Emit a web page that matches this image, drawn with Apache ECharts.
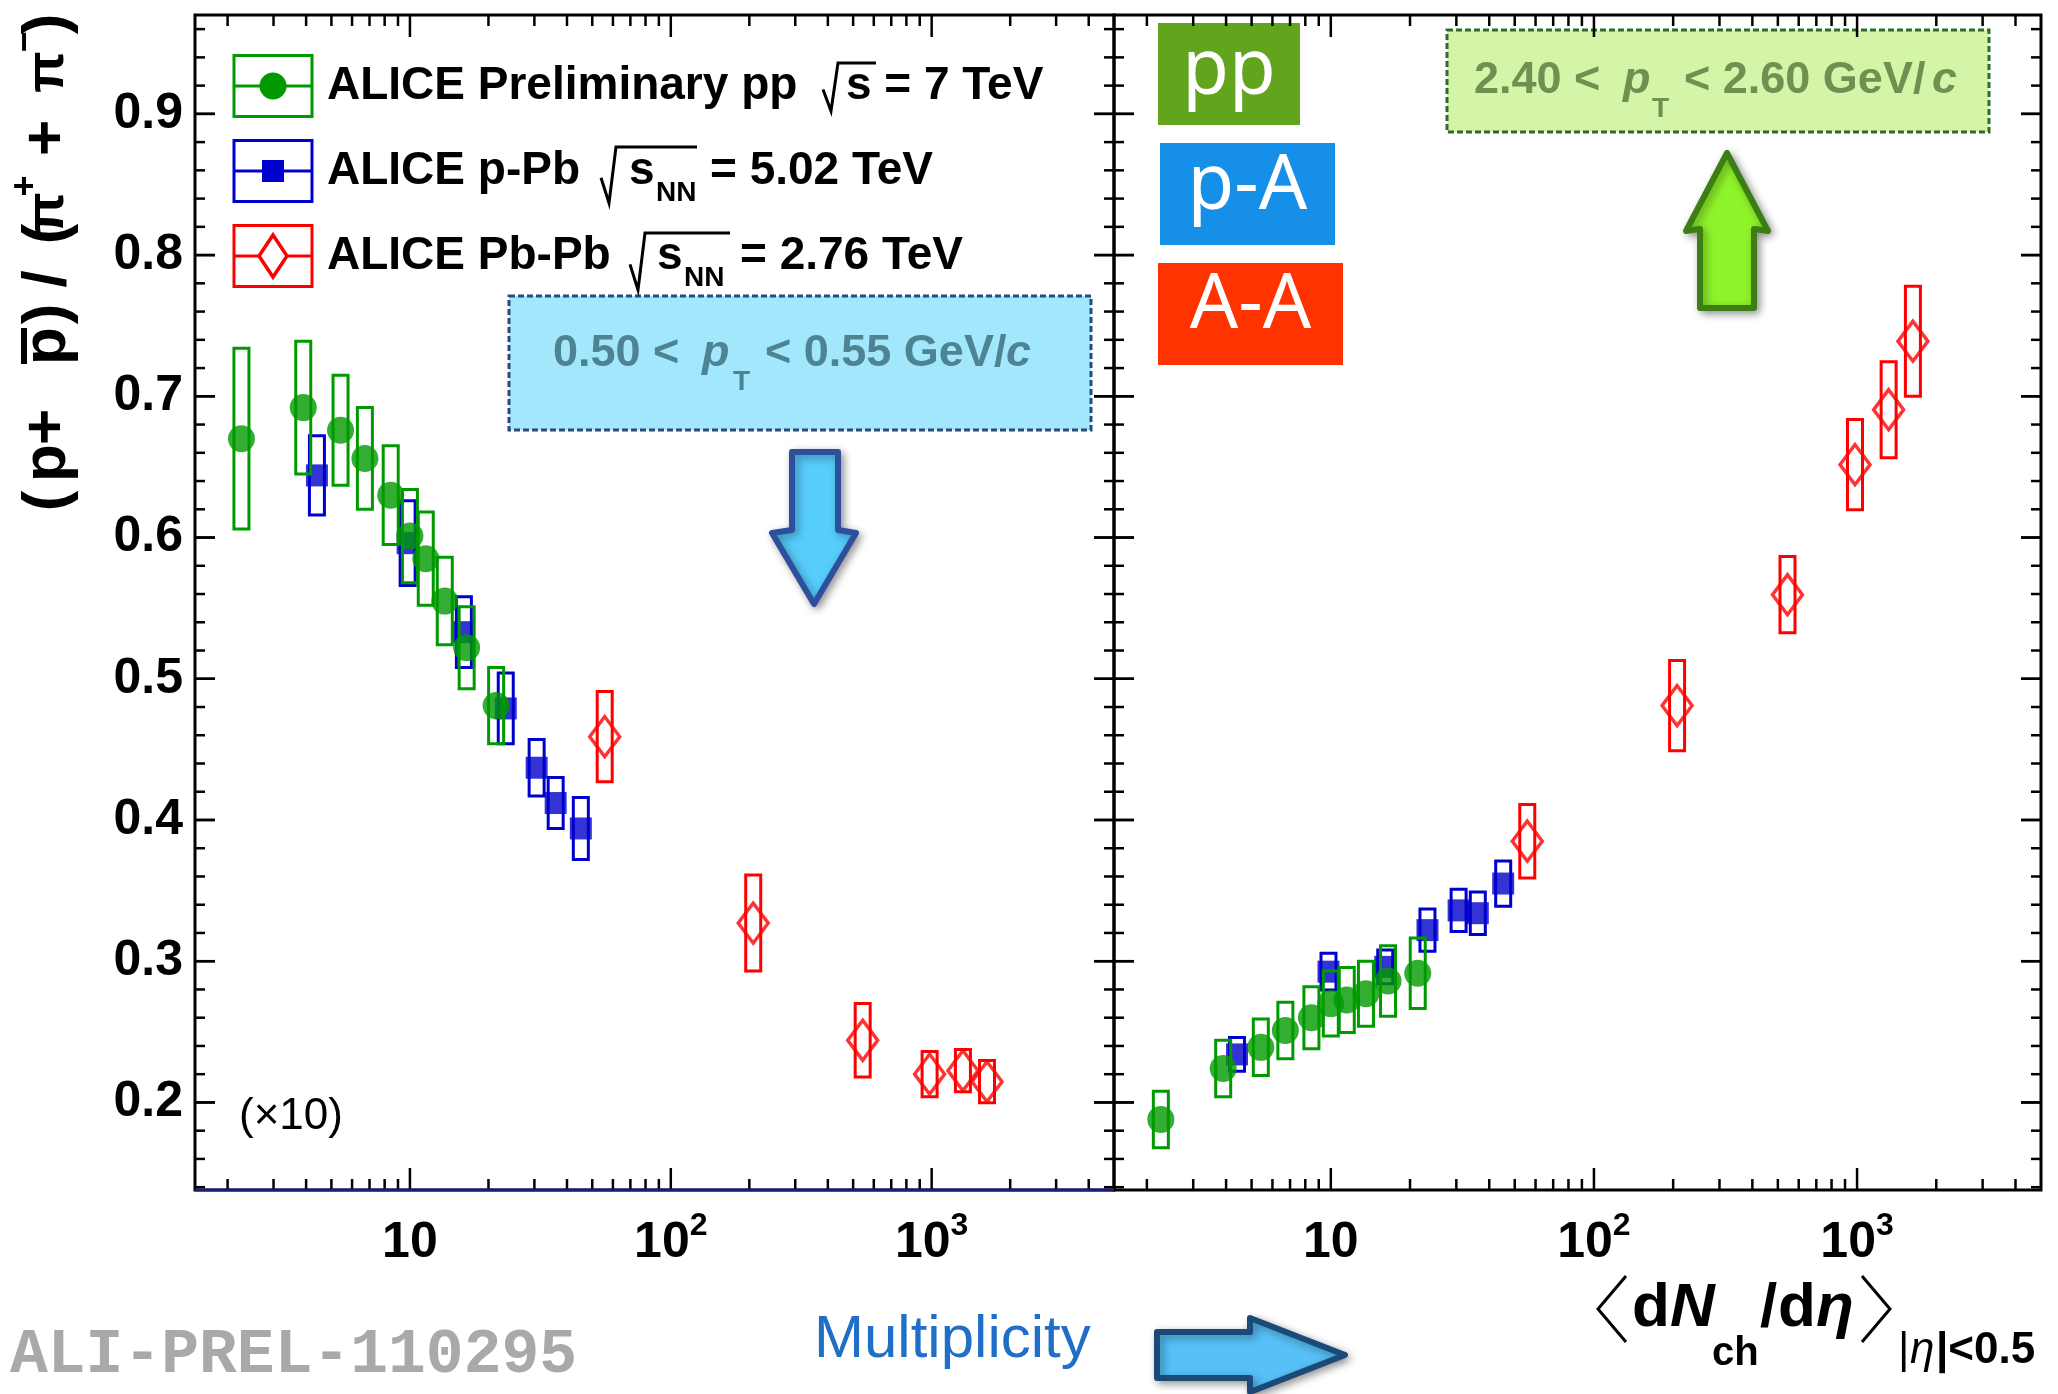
<!DOCTYPE html>
<html>
<head>
<meta charset="utf-8">
<title>ALICE (p+pbar)/(pi+ + pi-) vs multiplicity</title>
<script src="https://cdn.jsdelivr.net/npm/echarts@6/dist/echarts.min.js"></script>
<style>
  html, body { margin: 0; padding: 0; background: #fff; }
  #chart { width: 2058px; height: 1394px; }
</style>
</head>
<body>
<div id="chart"></div>
<script>
/* ------------------------------  data  ------------------------------ */
// <dNch/deta> of each multiplicity class
const ppMult = [2.26, 3.9, 5.42, 6.72, 8.44, 10.0, 11.5, 13.6, 16.5, 21.4];
const pPbMult = [4.4, 9.8, 16.1, 23.3, 30.6, 36.2, 45.2];
const PbPbMult = [55.8, 207, 544, 982, 1318, 1630];

// left panel: 0.50 < pT < 0.55 GeV/c  (value, systematic half-height)
const ppLow = [0.670, 0.692, 0.676, 0.656, 0.630, 0.601, 0.585, 0.555, 0.522, 0.481];
const ppLowSys = [0.064, 0.047, 0.039, 0.036, 0.035, 0.033, 0.033, 0.031, 0.029, 0.027];
const pPbLow = [0.644, 0.596, 0.533, 0.479, 0.437, 0.412, 0.394];
const pPbLowSys = [0.028, 0.030, 0.025, 0.025, 0.020, 0.018, 0.022];
const PbPbLow = [0.459, 0.327, 0.244, 0.220, 0.2225, 0.2147];
const PbPbLowSys = [0.032, 0.034, 0.026, 0.016, 0.015, 0.015];

// right panel: 2.40 < pT < 2.60 GeV/c
const ppHigh = [0.188, 0.224, 0.239, 0.251, 0.260, 0.270, 0.2725, 0.277, 0.286, 0.2915];
const ppHighSys = [0.020, 0.020, 0.020, 0.020, 0.022, 0.023, 0.023, 0.023, 0.025, 0.025];
const pPbHigh = [0.234, 0.2926, 0.296, 0.322, 0.336, 0.334, 0.355];
const pPbHighSys = [0.012, 0.013, 0.012, 0.015, 0.015, 0.015, 0.016];
const PbPbHigh = [0.385, 0.481, 0.5595, 0.6516, 0.6905, 0.739];
const PbPbHighSys = [0.026, 0.032, 0.027, 0.032, 0.034, 0.039];

// axes
const xMin = 1.5, xMax = 5000;
const yMin = 0.138, yMax = 0.97;
const xMajorTicks = [10, 100, 1000];
const xMinorTicks = [2, 3, 4, 5, 6, 7, 8, 9, 20, 30, 40, 50, 60, 70, 80, 90,
  200, 300, 400, 500, 600, 700, 800, 900, 2000, 3000, 4000];
const yMajorTicks = [0.2, 0.3, 0.4, 0.5, 0.6, 0.7, 0.8, 0.9];

/* ------------------------------  style  ------------------------------ */
const FONT = '"Liberation Sans", Arial, Helvetica, sans-serif';
const GREEN = '#009a00';
const BLUE = '#0000cc';
const RED = '#ff0000';
const TICK_W = 2.5;

const yMinorTicks = [];
for (let k = 7; k <= 48; k++) yMinorTicks.push(+(k * 0.02).toFixed(2));

/* ------------------------------  helpers  ------------------------------ */
function seg(x1, y1, x2, y2, color = '#000', w = TICK_W) {
  return { type: 'line', shape: { x1, y1, x2, y2 }, style: { stroke: color, lineWidth: w } };
}

// text placed by its alphabetic baseline
function txt(text, x, base, size, o = {}) {
  const font = `${o.italic ? 'italic ' : ''}${o.weight || 'bold'} ${size}px ${o.family || FONT}`;
  return {
    type: 'text', x, y: base - 0.35 * size, z: o.z ?? 20, silent: true,
    style: {
      text, font, fill: o.color || '#000',
      align: o.align || 'left', textAlign: o.align || 'left',
      verticalAlign: 'middle', textVerticalAlign: 'middle'
    }
  };
}

function radical(x, top, bottom, end, color = '#000') {
  const h = bottom - top;
  return {
    type: 'polyline', z: 20, silent: true,
    shape: { points: [[x - 3, top + 0.55 * h], [x + 5, bottom], [x + 12, top], [end, top]] },
    style: { stroke: color, lineWidth: 3, fill: 'none', lineJoin: 'miter' }
  };
}

function arrow(points, fill, stroke) {
  return {
    type: 'polygon', z: 15, silent: true, shape: { points },
    style: {
      fill, stroke, lineWidth: 6, lineJoin: 'round',
      shadowBlur: 8, shadowColor: 'rgba(0,0,0,0.35)', shadowOffsetX: 3, shadowOffsetY: 3
    }
  };
}

function tickSeries(gi) {
  return [
    {
      type: 'custom', xAxisIndex: gi, yAxisIndex: gi, z: 9, silent: true,
      data: xMajorTicks.concat(xMinorTicks).map(v => [v, yMin]),
      renderItem(params, api) {
        const v = api.value(0);
        const len = xMajorTicks.includes(v) ? 22 : 11;
        const p = api.coord([v, yMin]);
        const cs = params.coordSys;
        return {
          type: 'group', children: [
            seg(p[0], cs.y + cs.height, p[0], cs.y + cs.height - len),
            seg(p[0], cs.y, p[0], cs.y + len)
          ]
        };
      }
    },
    {
      type: 'custom', xAxisIndex: gi, yAxisIndex: gi, z: 9, silent: true,
      data: yMajorTicks.concat(yMinorTicks).map(v => [xMin, v]),
      renderItem(params, api) {
        const v = api.value(1);
        const len = Math.abs(v * 10 - Math.round(v * 10)) < 1e-6 ? 20 : 10;
        const p = api.coord([xMin, v]);
        const cs = params.coordSys;
        return {
          type: 'group', children: [
            seg(cs.x, p[1], cs.x + len, p[1]),
            seg(cs.x + cs.width, p[1], cs.x + cs.width - len, p[1])
          ]
        };
      }
    }
  ];
}

function boxSeries(gi, xs, ys, errs, color, z) {
  return {
    type: 'custom', xAxisIndex: gi, yAxisIndex: gi, z, silent: true,
    data: xs.map((x, i) => [x, ys[i] - errs[i], ys[i] + errs[i]]),
    renderItem(params, api) {
      const hi = api.coord([api.value(0), api.value(2)]);
      const lo = api.coord([api.value(0), api.value(1)]);
      return {
        type: 'rect',
        shape: { x: hi[0] - 7.5, y: hi[1], width: 15, height: lo[1] - hi[1] },
        style: { fill: 'none', stroke: color, lineWidth: 3 }
      };
    }
  };
}

function markerSeries(gi, xs, ys, kind, z) {
  const base = {
    type: 'scatter', xAxisIndex: gi, yAxisIndex: gi, z, silent: true,
    data: xs.map((x, i) => [x, ys[i]])
  };
  if (kind === 'pp') return Object.assign(base, { symbol: 'circle', symbolSize: 27, itemStyle: { color: GREEN } });
  if (kind === 'pPb') return Object.assign(base, { symbol: 'rect', symbolSize: 22, itemStyle: { color: BLUE } });
  return Object.assign(base, {
    symbol: 'diamond', symbolSize: [30, 40],
    itemStyle: { color: 'rgba(0,0,0,0)', borderColor: RED, borderWidth: 3.5 }
  });
}

/* ------------------------------  overlay graphics  ------------------------------ */
const overlay = [];

// y-axis title, rotated glyph by glyph: (p + p̄) / (π⁺ + π⁻)
const yTitleGlyphs = [['(', 501, 62], ['p', 463, 62], ['+', 427, 62], ['p', 346, 62], [')', 314, 62], ['/', 279, 62],
  ['(', 234, 62], ['π', 213, 54], ['+', 138, 62], ['π', 72, 54], [')', 24, 62]];
yTitleGlyphs.forEach(([t, y, fs]) => overlay.push({
  type: 'text', x: 48, y, rotation: Math.PI / 2, z: 20, silent: true,
  style: { text: t, font: `bold ${fs}px ${FONT}`, fill: '#000', align: 'center', textAlign: 'center', verticalAlign: 'middle', textVerticalAlign: 'middle' }
}));
[['+', 186, 26], ['−', 42, 26]].forEach(([t, y, x]) => overlay.push({
  type: 'text', x, y, rotation: Math.PI / 2, z: 20, silent: true,
  style: { text: t, font: `bold 36px ${FONT}`, fill: '#000', align: 'center', textAlign: 'center', verticalAlign: 'middle', textVerticalAlign: 'middle' }
}));
overlay.push({ type: 'rect', z: 20, silent: true, shape: { x: 21, y: 328, width: 6, height: 36 }, style: { fill: '#000' } });

// legend
const legendRows = [
  { cy: 86, color: GREEN, kind: 'pp' },
  { cy: 171, color: BLUE, kind: 'pPb' },
  { cy: 256, color: RED, kind: 'PbPb' }
];
legendRows.forEach(r => {
  overlay.push({ type: 'rect', z: 20, silent: true, shape: { x: 234, y: r.cy - 30.5, width: 78, height: 61 }, style: { fill: 'none', stroke: r.color, lineWidth: 3 } });
  overlay.push(Object.assign(seg(234, r.cy, 312, r.cy, r.color, 3), { z: 20, silent: true }));
  if (r.kind === 'pp') overlay.push({ type: 'circle', z: 21, silent: true, shape: { cx: 273, cy: r.cy, r: 13.5 }, style: { fill: GREEN } });
  if (r.kind === 'pPb') overlay.push({ type: 'rect', z: 21, silent: true, shape: { x: 262, y: r.cy - 11, width: 22, height: 22 }, style: { fill: BLUE } });
  if (r.kind === 'PbPb') overlay.push({
    type: 'polygon', z: 21, silent: true,
    shape: { points: [[273, r.cy - 21], [287, r.cy], [273, r.cy + 21], [259, r.cy]] },
    style: { fill: '#fff', stroke: RED, lineWidth: 3.5 }
  });
});
overlay.push(txt('ALICE Preliminary pp', 327, 102, 46));
overlay.push(radical(826, 63, 111, 876));
overlay.push(txt('s = 7 TeV', 846, 102, 46));
overlay.push(txt('ALICE p-Pb', 327, 187, 46));
overlay.push(radical(604, 147, 203, 697));
overlay.push(txt('s', 629, 187, 46));
overlay.push(txt('NN', 656, 203, 28));
overlay.push(txt('= 5.02 TeV', 710, 187, 46));
overlay.push(txt('ALICE Pb-Pb', 327, 272, 46));
overlay.push(radical(633, 233, 290, 730));
overlay.push(txt('s', 657, 272, 46));
overlay.push(txt('NN', 684, 288, 28));
overlay.push(txt('= 2.76 TeV', 740, 272, 46));

// pT window of the left panel
const LOW_TXT = '#4d8393';
overlay.push({ type: 'rect', z: 1, silent: true, shape: { x: 509, y: 296, width: 582, height: 134 }, style: { fill: '#a3e7fd', stroke: '#2a4a7c', lineWidth: 3, lineDash: [6, 3] } });
overlay.push(txt('0.50 <', 553, 369, 45, { color: LOW_TXT, z: 2 }));
overlay.push(txt('p', 702, 369, 45, { color: LOW_TXT, italic: true, z: 2 }));
overlay.push(txt('T', 733, 392, 28, { color: LOW_TXT, z: 2 }));
overlay.push(txt('< 0.55 GeV/', 765, 369, 45, { color: LOW_TXT, z: 2 }));
overlay.push(txt('c', 1006, 369, 45, { color: LOW_TXT, italic: true, z: 2 }));
overlay.push(arrow([[792, 452], [838, 452], [838, 530], [856, 533], [814, 604], [772, 533], [792, 530]], '#56cdfb', '#2d4f9e'));

// pT window of the right panel
const HIGH_TXT = '#6e9050';
overlay.push({ type: 'rect', z: 1, silent: true, shape: { x: 1447, y: 30, width: 542, height: 102 }, style: { fill: '#d4f4a7', stroke: '#2e6b2e', lineWidth: 3, lineDash: [6, 3] } });
overlay.push(txt('2.40 <', 1474, 96, 45, { color: HIGH_TXT, z: 2 }));
overlay.push(txt('p', 1623, 96, 45, { color: HIGH_TXT, italic: true, z: 2 }));
overlay.push(txt('T', 1652, 119, 28, { color: HIGH_TXT, z: 2 }));
overlay.push(txt('< 2.60 GeV/', 1684, 96, 45, { color: HIGH_TXT, z: 2 }));
overlay.push(txt('c', 1932, 96, 45, { color: HIGH_TXT, italic: true, z: 2 }));
overlay.push(arrow([[1727, 153], [1768, 231], [1754, 229], [1754, 308], [1700, 308], [1700, 229], [1686, 231]], '#8ff32a', '#3c7d14'));

// collision-system badges
[
  { x: 1158, y: 23, w: 142, h: 102, fill: '#62a41e', label: 'pp', base: 99 },
  { x: 1160, y: 143, w: 175, h: 102, fill: '#158fe8', label: 'p-A', base: 214 },
  { x: 1158, y: 263, w: 185, h: 102, fill: '#ff3300', label: 'A-A', base: 333 }
].forEach(b => {
  overlay.push({ type: 'rect', z: 1, silent: true, shape: { x: b.x, y: b.y, width: b.w, height: b.h }, style: { fill: b.fill } });
  overlay.push(txt(b.label, b.x + b.w / 2, b.base, 76, { color: '#fff', weight: 'normal', family: '"Noto Sans", sans-serif', align: 'center', z: 2 }));
});

// annotations at the bottom
overlay.push(txt('(×10)', 239, 1132, 44, { weight: 'normal' }));
overlay.push(Object.assign(seg(195, 1190, 1114, 1190, '#1c1c7a', 3), { z: 10, silent: true }));
overlay.push(txt('ALI-PREL-110295', 10, 1378, 63, { family: '"Liberation Mono", "Courier New", monospace', color: '#a9a9a9' }));
overlay.push(txt('Multiplicity', 814, 1361, 60, { weight: 'normal', color: '#1f6fc8' }));
overlay.push(arrow([[1157, 1332], [1250, 1332], [1250, 1318], [1345, 1355], [1250, 1392], [1250, 1378], [1157, 1378]], '#56c0f7', '#1b4a78'));

// x-axis title  <dN_ch/dη>_{|η|<0.5}
overlay.push({ type: 'polyline', z: 20, silent: true, shape: { points: [[1626, 1276], [1598, 1309], [1626, 1342]] }, style: { stroke: '#000', lineWidth: 3, fill: 'none' } });
overlay.push(txt('d', 1632, 1331, 62));
overlay.push(txt('N', 1670, 1331, 62, { italic: true }));
overlay.push(txt('ch', 1712, 1368, 40));
overlay.push(txt('/', 1760, 1331, 62));
overlay.push(txt('d', 1778, 1331, 62));
overlay.push(txt('η', 1816, 1331, 62, { italic: true }));
overlay.push({ type: 'polyline', z: 20, silent: true, shape: { points: [[1862, 1276], [1890, 1309], [1862, 1342]] }, style: { stroke: '#000', lineWidth: 3, fill: 'none' } });
overlay.push(txt('|', 1898, 1366, 44, { weight: 'normal' }));
overlay.push(txt('η', 1910, 1366, 44, { italic: true, weight: 'normal' }));
overlay.push(txt('|<0.5', 1936, 1366, 44));

/* ------------------------------  chart  ------------------------------ */
const chart = echarts.init(document.getElementById('chart'), null, { renderer: 'canvas' });

const grids = [
  { left: 195, top: 15, width: 919, height: 1175 },
  { left: 1114, top: 15, width: 927, height: 1175 }
].map(g => Object.assign(g, {
  show: true, borderColor: '#000', borderWidth: 3, backgroundColor: 'transparent',
  containLabel: false, outerBoundsMode: 'none'
}));

const xAxes = [0, 1].map(i => ({
  type: 'log', logBase: 10, gridIndex: i, min: xMin, max: xMax,
  axisLine: { show: false }, axisTick: { show: false }, splitLine: { show: false },
  axisLabel: {
    customValues: xMajorTicks, margin: 20,
    formatter: v => {
      const e = Math.round(Math.log10(v));
      return e === 1 ? '{b|10}' : `{b|10}{s|${e}}`;
    },
    rich: {
      b: { fontSize: 50, fontWeight: 'bold', fontFamily: FONT, color: '#000', lineHeight: 58, verticalAlign: 'bottom' },
      s: { fontSize: 32, fontWeight: 'bold', fontFamily: FONT, color: '#000', lineHeight: 32, verticalAlign: 'top' }
    }
  }
}));

const yAxes = [0, 1].map(i => ({
  type: 'value', gridIndex: i, min: yMin, max: yMax,
  axisLine: { show: false }, axisTick: { show: false }, splitLine: { show: false },
  axisLabel: {
    show: i === 0, customValues: yMajorTicks,
    margin: 12, fontSize: 50, fontWeight: 'bold', fontFamily: FONT, color: '#000',
    formatter: v => v.toFixed(1)
  }
}));

const series = [
  ...tickSeries(0), ...tickSeries(1),
  // left panel
  boxSeries(0, PbPbMult, PbPbLow, PbPbLowSys, RED, 3), markerSeries(0, PbPbMult, PbPbLow, 'PbPb', 4),
  boxSeries(0, pPbMult, pPbLow, pPbLowSys, BLUE, 3), markerSeries(0, pPbMult, pPbLow, 'pPb', 4),
  boxSeries(0, ppMult, ppLow, ppLowSys, GREEN, 5), markerSeries(0, ppMult, ppLow, 'pp', 6),
  // right panel
  boxSeries(1, PbPbMult, PbPbHigh, PbPbHighSys, RED, 3), markerSeries(1, PbPbMult, PbPbHigh, 'PbPb', 4),
  boxSeries(1, pPbMult, pPbHigh, pPbHighSys, BLUE, 3), markerSeries(1, pPbMult, pPbHigh, 'pPb', 4),
  boxSeries(1, ppMult, ppHigh, ppHighSys, GREEN, 5), markerSeries(1, ppMult, ppHigh, 'pp', 6)
];

chart.setOption({
  animation: false,
  backgroundColor: '#fff',
  grid: grids,
  xAxis: xAxes,
  yAxis: yAxes,
  series,
  graphic: { elements: overlay }
});
</script>
</body>
</html>
